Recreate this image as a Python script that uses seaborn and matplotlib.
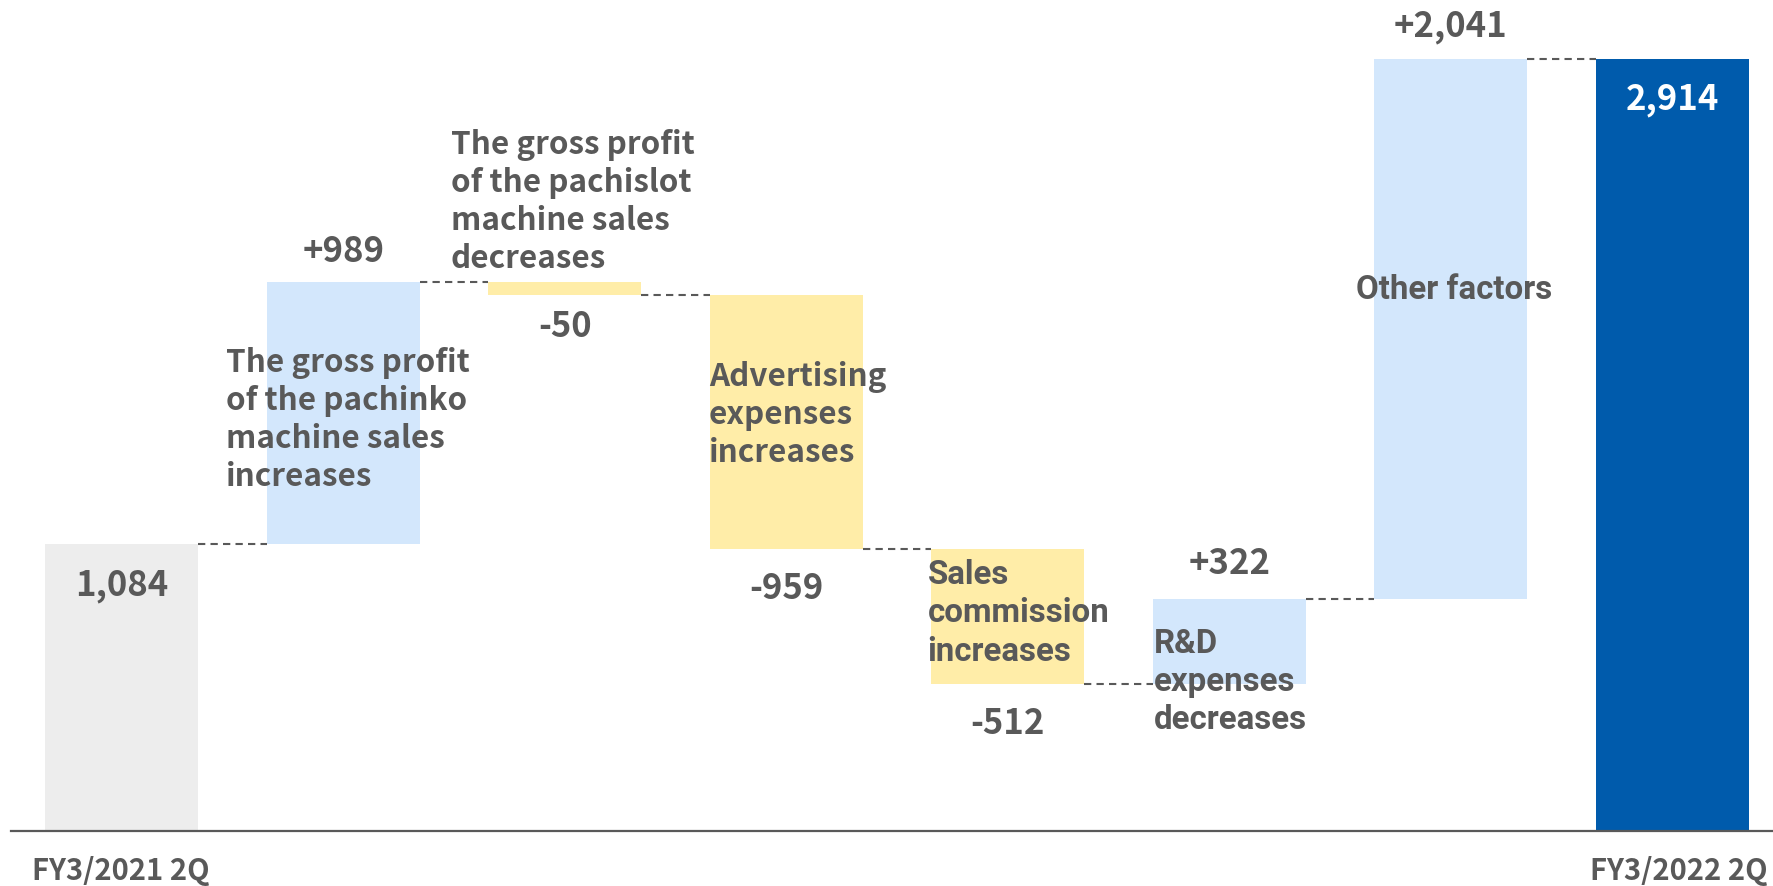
import matplotlib
matplotlib.use("Agg")
import matplotlib.pyplot as plt
import numpy as np
import pandas as pd
import seaborn as sns

# ---- data ---------------------------------------------------------------
steps = ["FY3/2021 2Q", "Pachinko GP", "Pachislot GP", "Advertising",
         "Sales commission", "R&D", "Other", "FY3/2022 2Q"]
start_value = 1084
changes = [989, -50, -959, -512, 322, 2041]
end_value = 2914
value_labels = ["1,084", "+989", "-50", "-959", "-512", "+322", "+2,041", "2,914"]
descriptions = [
    None,
    "The gross profit\nof the pachinko\nmachine sales\nincreases",
    "The gross profit\nof the pachislot\nmachine sales\ndecreases",
    "Advertising\nexpenses\nincreases",
    "Sales\ncommission\nincreases",
    "R&D\nexpenses\ndecreases",
    "Other factors",
    None,
]
tick_labels = ["FY3/2021 2Q", "FY3/2022 2Q"]

# ---- waterfall geometry -------------------------------------------------
levels = np.concatenate([[start_value], start_value + np.cumsum(changes)])
bottoms = [0.0]
tops = [float(start_value)]
for i, c in enumerate(changes):
    lo, hi = sorted([levels[i], levels[i + 1]])
    bottoms.append(float(lo))
    tops.append(float(hi))
bottoms.append(0.0)
tops.append(float(end_value))
heights = np.array(tops) - np.array(bottoms)

df = pd.DataFrame({"step": steps, "height": heights, "bottom": bottoms})

GREY_BAR = "#EDEDED"
POS = "#D3E7FC"
NEG = "#FFEDA8"
TOTAL = "#005BAC"
TXT = "#595959"
colors = [GREY_BAR] + [POS if c > 0 else NEG for c in changes] + [TOTAL]

# ---- figure -------------------------------------------------------------
sns.set_theme(style="white")
plt.rcParams["font.family"] = ["Noto Sans CJK JP", "DejaVu Sans"]

W, H, DPI = 1774, 887, 100
fig = plt.figure(figsize=(W / DPI, H / DPI), dpi=DPI)
ax = fig.add_axes([11 / W, 55.4 / H, 1 - 11 / W, 1 - 55.4 / H])

bar_w = 0.69
sns.barplot(data=df, x="step", y="height", bottom=df["bottom"].values,
            order=steps, width=bar_w, color=POS, saturation=1,
            linewidth=0, ax=ax)
for patch, col in zip(ax.patches, colors):
    patch.set_facecolor(col)
    patch.set_edgecolor("none")

ax.set_xlim(-0.5, 7.46)
ax.set_ylim(0, 3140)
for s in ["top", "right", "left"]:
    ax.spines[s].set_visible(False)
ax.spines["bottom"].set_color(TXT)
ax.spines["bottom"].set_linewidth(1.6)
ax.set_xticks([])
ax.set_yticks([])
ax.set_xlabel("")
ax.set_ylabel("")

# dashed connectors between consecutive bars
for i in range(len(steps) - 1):
    ax.plot([i + bar_w / 2, i + 1 - bar_w / 2], [levels[i]] * 2,
            color=TXT, lw=1.5, ls=(0, (3.5, 2.5)), solid_capstyle="butt")

# value labels: anchor level and offset in points
px = 0.72
label_anchor = [tops[0], tops[1], bottoms[2], bottoms[3], bottoms[4], tops[5], tops[6], tops[7]]
label_offset = np.array([-41, 31, -31, -39, -37.6, 37, 33, -40]) * px
label_color = [TXT] * 7 + ["white"]
for i, (txt, yv, off, col) in enumerate(zip(value_labels, label_anchor, label_offset, label_color)):
    ax.annotate(txt, (i, yv), xytext=(0, off), textcoords="offset points",
                ha="center", va="center", fontsize=25, fontweight="bold", color=col)

# explanatory notes next to the step bars
note_pos = {1: (0.47, 1556), 2: (1.486, 2376), 3: (2.65, 1573),
            4: (3.638, 824), 5: (4.658, 565), 6: (5.574, 2045)}
for i, (x, y) in note_pos.items():
    if i <= 3:
        ax.text(x, y, descriptions[i], ha="left", va="center", fontsize=22.6,
                fontweight="bold", color=TXT, linespacing=1.24)
    else:
        ax.text(x, y, descriptions[i], ha="left", va="center", fontsize=23.8,
                family=["Roboto", "DejaVu Sans"], fontweight="bold",
                color=TXT, linespacing=1.25)

# period labels under the axis
fig.text(32 / W, 1 - 871 / H, tick_labels[0], ha="left", va="center",
         fontsize=21, fontweight="bold", color=TXT)
fig.text(1768 / W, 1 - 871 / H, tick_labels[1], ha="right", va="center",
         fontsize=21, fontweight="bold", color=TXT)

fig.savefig("out.png", dpi=DPI)
